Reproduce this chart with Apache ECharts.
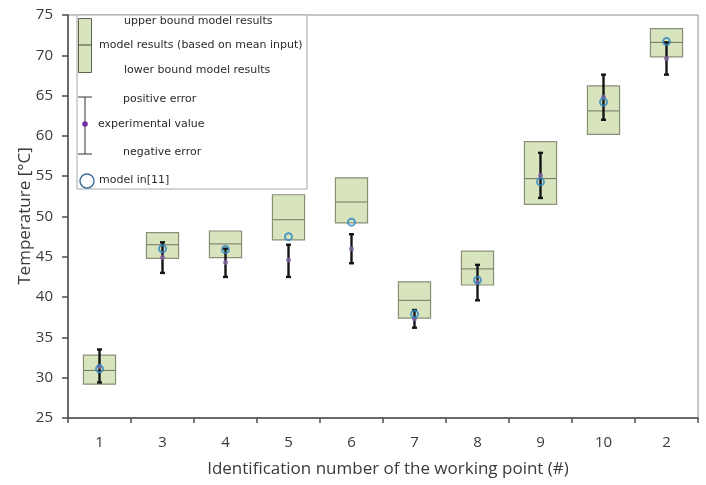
<!DOCTYPE html>
<html>
<head>
<meta charset="utf-8">
<script src="https://cdn.jsdelivr.net/npm/echarts@6/dist/echarts.min.js"></script>
<style>
  html, body { margin: 0; padding: 0; background: #fff; }
  #chart { width: 706px; height: 485px; }
</style>
</head>
<body>
<div id="chart"></div>
<script>
// Working points, in the order they are plotted
const categories = ['1', '3', '4', '5', '6', '7', '8', '9', '10', '2'];

// Model results: upper bound, mean-input result, lower bound (°C)
const upperBound = [32.8, 48.0, 48.2, 52.7, 54.8, 41.9, 45.7, 59.3, 66.2, 73.3];
const meanModel  = [30.9, 46.5, 46.6, 49.6, 51.8, 39.6, 43.5, 54.7, 63.1, 71.6];
const lowerBound = [29.2, 44.8, 44.9, 47.1, 49.2, 37.4, 41.5, 51.5, 60.2, 69.8];

// Experimental values with their error range (°C)
const experimental = [31.4, 44.9, 44.3, 44.6, 46.0, 37.3, 41.8, 55.1, 64.8, 69.6];
const errorTop     = [33.5, 46.8, 46.0, 46.5, 47.8, 38.4, 44.0, 57.9, 67.6, 71.6];
const errorBottom  = [29.4, 43.0, 42.5, 42.5, 44.2, 36.2, 39.6, 52.3, 62.0, 67.6];

// Reference model from [11] (°C)
const modelRef = [31.1, 46.0, 45.9, 47.5, 49.3, 37.9, 42.1, 54.3, 64.2, 71.7];

// Y axis ticks
const yMin = 25, yMax = 75, yStep = 5;

const boxData = categories.map((c, i) => [i, lowerBound[i], meanModel[i], upperBound[i]]);
const errData = categories.map((c, i) => [i, errorBottom[i], errorTop[i]]);
const expData = categories.map((c, i) => [i, experimental[i]]);
const refData = categories.map((c, i) => [i, modelRef[i]]);

const FILL = '#d7e4bd';
const EDGE = '#8a8f78';
const MID = '#6e7560';
const AXIS = '#4d4d4d';
const TXT = '#3a3a3a';
const BLUE = '#2f86c0';
const PURPLE = '#8466a8';

const chart = echarts.init(document.getElementById('chart'), null, { renderer: 'canvas' });

// Legend drawn as a framed panel inside the plot
const LX = 77, LY = 15, LW = 230, LH = 174;
const legendFont = '11px "DejaVu Sans"';
const LT = '#2b2b2b';
const legendGraphics = [
  { type: 'rect', shape: { x: LX, y: LY, width: LW, height: LH },
    style: { fill: '#fff', stroke: '#a6a6a6', lineWidth: 1 } },
  { type: 'rect', shape: { x: 78.5, y: 18.5, width: 13, height: 54 },
    style: { fill: FILL, stroke: '#5f6650', lineWidth: 1 } },
  { type: 'line', shape: { x1: 78.5, y1: 45, x2: 91.5, y2: 45 },
    style: { stroke: '#3e4436', lineWidth: 1 } },
  { type: 'text', style: { x: 124, y: 21.5, text: 'upper bound model results', font: legendFont, fill: LT, verticalAlign: 'middle' } },
  { type: 'text', style: { x: 99, y: 45, text: 'model results (based on mean input)', font: legendFont, fill: LT, verticalAlign: 'middle' } },
  { type: 'text', style: { x: 124, y: 70, text: 'lower bound model results', font: legendFont, fill: LT, verticalAlign: 'middle' } },
  { type: 'line', shape: { x1: 85, y1: 97, x2: 85, y2: 154 }, style: { stroke: '#333', lineWidth: 1 } },
  { type: 'line', shape: { x1: 78, y1: 97, x2: 92, y2: 97 }, style: { stroke: '#333', lineWidth: 1 } },
  { type: 'line', shape: { x1: 78, y1: 154, x2: 92, y2: 154 }, style: { stroke: '#333', lineWidth: 1 } },
  { type: 'circle', shape: { cx: 85, cy: 124, r: 2.8 }, style: { fill: '#7030a0' } },
  { type: 'text', style: { x: 123, y: 99, text: 'positive error', font: legendFont, fill: LT, verticalAlign: 'middle' } },
  { type: 'text', style: { x: 98, y: 124, text: 'experimental value', font: legendFont, fill: LT, verticalAlign: 'middle' } },
  { type: 'text', style: { x: 123, y: 152, text: 'negative error', font: legendFont, fill: LT, verticalAlign: 'middle' } },
  { type: 'circle', shape: { cx: 87, cy: 181, r: 7 }, style: { fill: 'none', stroke: '#41719c', lineWidth: 1.5 } },
  { type: 'text', style: { x: 99, y: 180, text: 'model in[11]', font: legendFont, fill: LT, verticalAlign: 'middle' } }
];

// Vertical axis title, placed beside the tick labels
const yTitle = {
  type: 'text', x: 25, y: 216, rotation: Math.PI / 2,
  style: { text: 'Temperature [°C]', font: '17px "Open Sans"', fill: TXT, align: 'center', verticalAlign: 'middle' }
};

const option = {
  animation: false,
  backgroundColor: '#fff',
  textStyle: { fontFamily: '"Open Sans", sans-serif' },
  grid: {
    left: 68, right: 8, top: 15, bottom: 67,
    show: true, borderColor: '#8c8c8c', borderWidth: 1, backgroundColor: 'transparent'
  },
  xAxis: {
    type: 'category',
    data: categories,
    boundaryGap: true,
    name: 'Identification number of the working point (#)',
    nameLocation: 'middle',
    nameGap: 43,
    nameMoveOverlap: false,
    nameTextStyle: { fontSize: 17, color: TXT, fontFamily: '"Open Sans"', padding: [0, 0, 0, 10] },
    axisLine: { lineStyle: { color: AXIS, width: 1.5 } },
    axisTick: { show: true, length: 5, lineStyle: { color: AXIS, width: 1.5 } },
    axisLabel: { fontSize: 15, color: TXT, margin: 17, fontFamily: '"Open Sans"' }
  },
  yAxis: {
    type: 'value',
    min: yMin, max: yMax, interval: yStep,
    axisLine: { show: true, lineStyle: { color: AXIS, width: 1.5 } },
    axisTick: { show: true, length: 6, lineStyle: { color: AXIS, width: 1.5 } },
    axisLabel: { fontSize: 15, color: TXT, margin: 15, fontFamily: '"Open Sans"' },
    splitLine: { show: false }
  },
  series: [
    {
      name: 'model results',
      type: 'custom',
      z: 2,
      data: boxData,
      encode: { x: 0, y: [1, 2, 3] },
      renderItem: function (params, api) {
        const x = api.value(0);
        const lo = api.coord([x, api.value(1)]);
        const mid = api.coord([x, api.value(2)]);
        const hi = api.coord([x, api.value(3)]);
        const w = api.size([1, 0])[0] * 0.51;
        const left = lo[0] - w / 2;
        return {
          type: 'group',
          children: [
            { type: 'rect', shape: { x: left, y: hi[1], width: w, height: lo[1] - hi[1] },
              style: { fill: FILL, stroke: EDGE, lineWidth: 1.2 } },
            { type: 'line', shape: { x1: left, y1: mid[1], x2: left + w, y2: mid[1] },
              style: { stroke: MID, lineWidth: 1 } }
          ]
        };
      }
    },
    {
      name: 'error',
      type: 'custom',
      z: 3,
      data: errData,
      encode: { x: 0, y: [1, 2] },
      renderItem: function (params, api) {
        const x = api.value(0);
        const b = api.coord([x, api.value(1)]);
        const t = api.coord([x, api.value(2)]);
        const cap = 2.5;
        const st = { stroke: '#151515', lineWidth: 2.4 };
        return {
          type: 'group',
          children: [
            { type: 'line', shape: { x1: b[0], y1: b[1], x2: t[0], y2: t[1] }, style: st },
            { type: 'line', shape: { x1: b[0] - cap, y1: b[1], x2: b[0] + cap, y2: b[1] }, style: st },
            { type: 'line', shape: { x1: t[0] - cap, y1: t[1], x2: t[0] + cap, y2: t[1] }, style: st }
          ]
        };
      }
    },
    {
      name: 'experimental value',
      type: 'scatter',
      z: 4,
      data: expData,
      symbol: 'circle',
      symbolSize: 5,
      itemStyle: { color: PURPLE }
    },
    {
      name: 'model in[11]',
      type: 'scatter',
      z: 5,
      data: refData,
      symbol: 'circle',
      symbolSize: 7,
      itemStyle: { color: 'rgba(255,255,255,0)', borderColor: BLUE, borderWidth: 2 }
    }
  ],
  graphic: { elements: legendGraphics.map(g => Object.assign({ z: 100, silent: true }, g)).concat([yTitle]) }
};

chart.setOption(option);
</script>
</body>
</html>
